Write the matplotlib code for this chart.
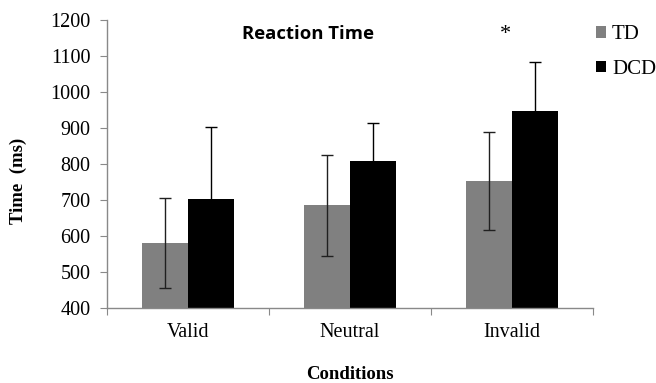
import matplotlib
matplotlib.use("Agg")
import matplotlib.pyplot as plt
import numpy as np

categories = ["Valid", "Neutral", "Invalid"]
td_means = [580, 685, 753]
td_err = [125, 140, 136]
dcd_means = [703, 809, 947]
dcd_err = [200, 106, 135]
yticks = [400, 500, 600, 700, 800, 900, 1000, 1100, 1200]

serif = ["Liberation Serif", "DejaVu Serif"]

fig = plt.figure(figsize=(6.56, 3.83), dpi=100)
ax = fig.add_axes([0.1631, 0.1958, 0.7409, 0.752])

x = np.arange(len(categories))
w = 0.284
ax.bar(x - w / 2, td_means, w, color="#808080", label="TD", zorder=2)
ax.bar(x + w / 2, dcd_means, w, color="#000000", label="DCD", zorder=2)
ax.errorbar(x - w / 2, td_means, yerr=td_err, fmt="none", ecolor="#202020",
            elinewidth=1.0, capsize=4, capthick=1.0, zorder=3)
ax.errorbar(x + w / 2, dcd_means, yerr=dcd_err, fmt="none", ecolor="#000000",
            elinewidth=1.0, capsize=4, capthick=1.0, zorder=3)

ax.set_xlim(-0.5, 2.5)
ax.set_ylim(400, 1200)
ax.set_yticks(yticks)
ax.set_yticklabels([str(v) for v in yticks], family=serif, fontsize=14.5)
ax.set_xticks([-0.5, 0.5, 1.5, 2.5])
ax.set_xticklabels([])
ax.set_xticks(x, minor=True)
ax.set_xticklabels(categories, minor=True, family=serif, fontsize=14.5)
ax.tick_params(axis="x", which="minor", length=0, pad=11)
ax.tick_params(axis="x", which="major", length=5, color="#898989")
ax.tick_params(axis="y", length=5, color="#898989", pad=7)

for s in ["top", "right"]:
    ax.spines[s].set_visible(False)
for s in ["left", "bottom"]:
    ax.spines[s].set_color("#898989")
    ax.spines[s].set_linewidth(1.0)

ax.text(0.74, 1162, "Reaction Time", fontsize=13.3, fontweight="bold",
        family=["Open Sans", "DejaVu Sans"], ha="center", va="center")
ax.text(1.96, 1160, "*", fontsize=16, family=serif, ha="center", va="center")

fig.text(0.028, 0.527, "Time  (ms)", rotation=90, fontsize=13.5, fontweight="bold",
         family=serif, ha="center", va="center")
fig.text(0.534, 0.022, "Conditions", fontsize=13.5, fontweight="bold",
         family=serif, ha="center", va="center")

leg = ax.legend(loc="upper left", bbox_to_anchor=(0.99, 1.01), frameon=False,
                prop={"family": serif, "size": 15}, handlelength=0.45,
                handleheight=0.45, handletextpad=0.3, labelspacing=0.75,
                borderaxespad=0.0)

fig.savefig("out.png", dpi=100)
